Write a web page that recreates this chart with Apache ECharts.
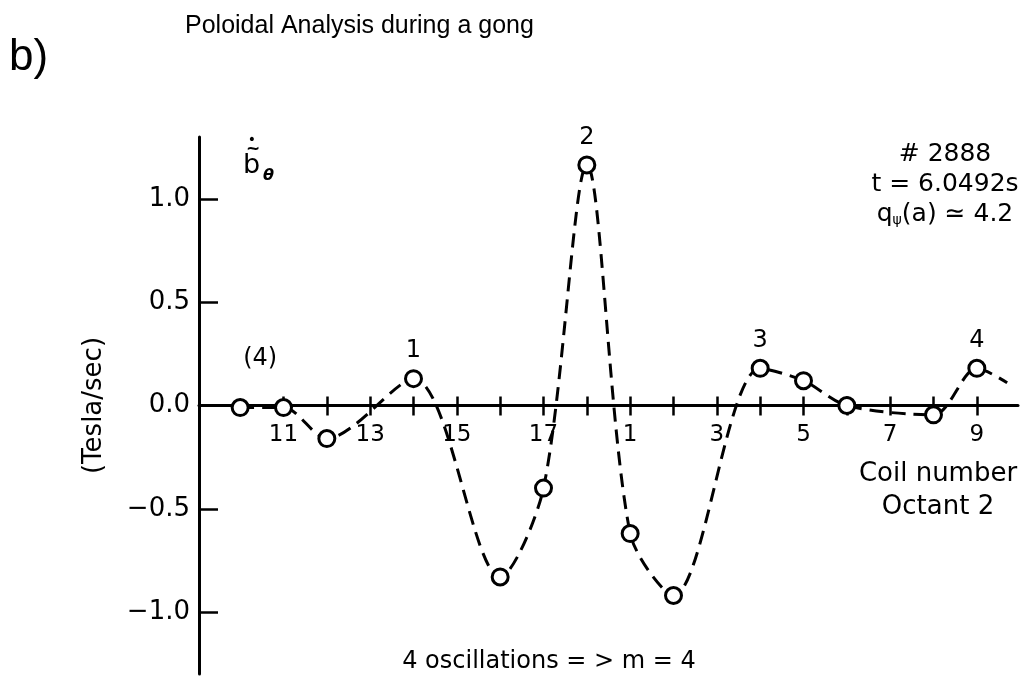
<!DOCTYPE html>
<html>
<head>
<meta charset="utf-8">
<title>Poloidal Analysis during a gong</title>
<script src="https://cdn.jsdelivr.net/npm/echarts@6/dist/echarts.min.js"></script>
<style>
  html, body { margin: 0; padding: 0; background: #fff; }
  #chart { width: 1024px; height: 682px; }
</style>
</head>
<body>
<div id="chart"></div>
<script>
// Coil order around the poloidal circumference (octant 2), one slot per coil
const coilOrder = ['10', '11', '12', '13', '14', '15', '16', '17', '18', '1', '2', '3', '4', '5', '6', '7', '8', '9'];
// Coils that delivered a signal, and their dB/dt readings (Tesla/sec)
const measuredCoils = ['10', '11', '12', '14', '16', '17', '18', '1', '2', '4', '5', '6', '8', '9'];
const bDotValues = [-0.01, -0.01, -0.16, 0.13, -0.83, -0.40, 1.165, -0.62, -0.92, 0.18, 0.12, 0.0, -0.045, 0.18];
// Fitted curve continues a little past coil 9 towards coil 10
const curveTailPos = 17.7;
const curveTailValue = 0.11;
// Oscillation count written above the crests
const crestCoils = ['10', '14', '18', '4', '9'];
const crestTags = ['(4)', '1', '2', '3', '4'];
// Axis ticks and labels
const coilTickSlots = [1, 2, 3, 4, 5, 6, 7, 8, 9, 10, 11, 12, 13, 14, 15, 16, 17];
const coilLabelSlots = [1, 3, 5, 7, 9, 11, 13, 15, 17];
const yTickValues = [-1, -0.5, 0, 0.5, 1];
const yTickLabels = ['\u22121.0', '\u22120.5', '0.0', '0.5', '1.0'];

const FONT = 'DejaVu Sans';
const slotOf = c => coilOrder.indexOf(c);

const points = measuredCoils.map((c, i) => {
  const k = crestCoils.indexOf(c);
  const item = { value: [slotOf(c), bDotValues[i]] };
  if (k >= 0) {
    const wrapped = crestTags[k].length > 1;
    item.label = {
      show: true,
      formatter: crestTags[k],
      position: 'top',
      distance: 6,
      offset: wrapped ? [20, -21] : [0, 0],
      fontSize: 24,
      fontFamily: FONT,
      color: '#000'
    };
  }
  return item;
});
points.push({ value: [curveTailPos, curveTailValue], symbol: 'none' });

// Coil numbers written just under the zero line
const coilLabelPoints = coilLabelSlots.map(s => ({ value: [s, 0], name: coilOrder[s] }));

const chart = echarts.init(document.getElementById('chart'), null, { renderer: 'canvas' });

const xRange = { min: -0.95, max: 17.95 };

const option = {
  animation: false,
  backgroundColor: '#fff',
  textStyle: { fontFamily: FONT, color: '#000' },
  title: {
    text: 'Poloidal Analysis during a gong',
    left: 180,
    top: 9,
    textStyle: { fontFamily: 'Liberation Sans', fontSize: 25, fontWeight: 'normal', color: '#000' }
  },
  grid: { left: 199, right: 6, top: 137, bottom: 8, outerBoundsMode: 'none' },
  xAxis: [
    {
      type: 'value',
      min: xRange.min,
      max: xRange.max,
      position: 'bottom',
      axisLine: { show: true, onZero: true, onZeroAxisIndex: 0, lineStyle: { color: '#000', width: 3 } },
      axisTick: { show: true, customValues: coilTickSlots, length: 10, lineStyle: { color: '#000', width: 2.5 } },
      axisLabel: { show: false },
      splitLine: { show: false }
    },
    {
      type: 'value',
      min: xRange.min,
      max: xRange.max,
      position: 'bottom',
      axisLine: { show: false, onZero: true, onZeroAxisIndex: 1 },
      axisTick: { show: true, inside: true, customValues: coilTickSlots, length: 9, lineStyle: { color: '#000', width: 2.5 } },
      axisLabel: { show: false },
      splitLine: { show: false }
    }
  ],
  yAxis: [
    {
      type: 'value',
      min: -1.3,
      max: 1.3,
      axisLine: { show: true, onZero: false, lineStyle: { color: '#000', width: 3 } },
      axisTick: { show: true, inside: true, customValues: yTickValues, length: 19, lineStyle: { color: '#000', width: 2.5 } },
      axisLabel: {
        customValues: yTickValues,
        formatter: v => yTickLabels[yTickValues.indexOf(v)],
        fontSize: 26,
        fontFamily: FONT,
        color: '#000',
        margin: 9
      },
      splitLine: { show: false },
      name: '(Tesla/sec)',
      nameLocation: 'middle',
      nameRotate: 90,
      nameGap: 92,
      nameTextStyle: { fontSize: 26, fontFamily: FONT, color: '#000' }
    },
    {
      type: 'value',
      min: -1.3,
      max: 1.3,
      show: false,
      axisLine: { onZero: false }
    }
  ],
  series: [
    {
      type: 'line',
      xAxisIndex: 0,
      yAxisIndex: 0,
      data: points,
      smooth: 0.3,
      symbol: 'circle',
      symbolSize: 16,
      itemStyle: { color: '#fff', borderColor: '#000', borderWidth: 3 },
      lineStyle: { color: '#000', width: 3, type: [14, 8] },
      z: 5
    },
    {
      type: 'scatter',
      xAxisIndex: 0,
      yAxisIndex: 0,
      data: coilLabelPoints,
      symbol: 'circle',
      symbolSize: 1,
      itemStyle: { color: 'rgba(255,255,255,0)', opacity: 1 },
      silent: true,
      label: {
        show: true,
        position: 'bottom',
        distance: 18,
        formatter: p => p.name,
        fontSize: 23,
        fontFamily: FONT,
        color: '#000',
        opacity: 1
      },
      labelLayout: { hideOverlap: false },
      z: 4
    }
  ],
  graphic: [
    {
      type: 'text', x: 9, y: 58,
      style: { text: 'b)', fill: '#000', fontFamily: 'Liberation Sans', fontSize: 44, align: 'left', verticalAlign: 'middle', textAlign: 'left', textVerticalAlign: 'middle' }
    },
    // b with tilde and time-derivative dot, subscript theta
    {
      type: 'text', x: 243, y: 166,
      style: { text: 'b', fill: '#000', fontFamily: FONT, fontSize: 27, align: 'left', verticalAlign: 'middle', textAlign: 'left', textVerticalAlign: 'middle' }
    },
    {
      type: 'text', x: 253, y: 150,
      style: { text: '~', fill: '#000', fontFamily: FONT, fontSize: 17, fontWeight: 'bold', align: 'center', verticalAlign: 'middle', textAlign: 'center', textVerticalAlign: 'middle' }
    },
    {
      type: 'text', x: 252, y: 140,
      style: { text: '\u2022', fill: '#000', fontFamily: FONT, fontSize: 14, align: 'center', verticalAlign: 'middle', textAlign: 'center', textVerticalAlign: 'middle' }
    },
    {
      type: 'text', x: 263, y: 176,
      style: { text: '\u03b8', fill: '#000', fontFamily: FONT, fontSize: 16, fontWeight: 'bold', fontStyle: 'italic', align: 'left', verticalAlign: 'middle', textAlign: 'left', textVerticalAlign: 'middle' }
    },
    {
      type: 'text', x: 945, y: 154,
      style: { text: '# 2888', fill: '#000', fontFamily: FONT, fontSize: 25, align: 'center', verticalAlign: 'middle', textAlign: 'center', textVerticalAlign: 'middle' }
    },
    {
      type: 'text', x: 945, y: 184,
      style: { text: 't = 6.0492s', fill: '#000', fontFamily: FONT, fontSize: 25, align: 'center', verticalAlign: 'middle', textAlign: 'center', textVerticalAlign: 'middle' }
    },
    {
      type: 'text', x: 945, y: 214,
      style: {
        text: 'q{sub|\u03c8}(a) \u2243 4.2',
        fill: '#000', fontFamily: FONT, fontSize: 25,
        align: 'center', verticalAlign: 'middle', textAlign: 'center', textVerticalAlign: 'middle',
        rich: { sub: { fontFamily: FONT, fontSize: 14, fill: '#000', padding: [12, 0, 0, 0] } }
      }
    },
    {
      type: 'text', x: 938, y: 474,
      style: { text: 'Coil number', fill: '#000', fontFamily: FONT, fontSize: 26, align: 'center', verticalAlign: 'middle', textAlign: 'center', textVerticalAlign: 'middle' }
    },
    {
      type: 'text', x: 938, y: 507,
      style: { text: 'Octant 2', fill: '#000', fontFamily: FONT, fontSize: 26, align: 'center', verticalAlign: 'middle', textAlign: 'center', textVerticalAlign: 'middle' }
    },
    {
      type: 'text', x: 549, y: 662,
      style: { text: '4 oscillations = > m = 4', fill: '#000', fontFamily: FONT, fontSize: 24, align: 'center', verticalAlign: 'middle', textAlign: 'center', textVerticalAlign: 'middle' }
    }
  ]
};

chart.setOption(option);
</script>
</body>
</html>
